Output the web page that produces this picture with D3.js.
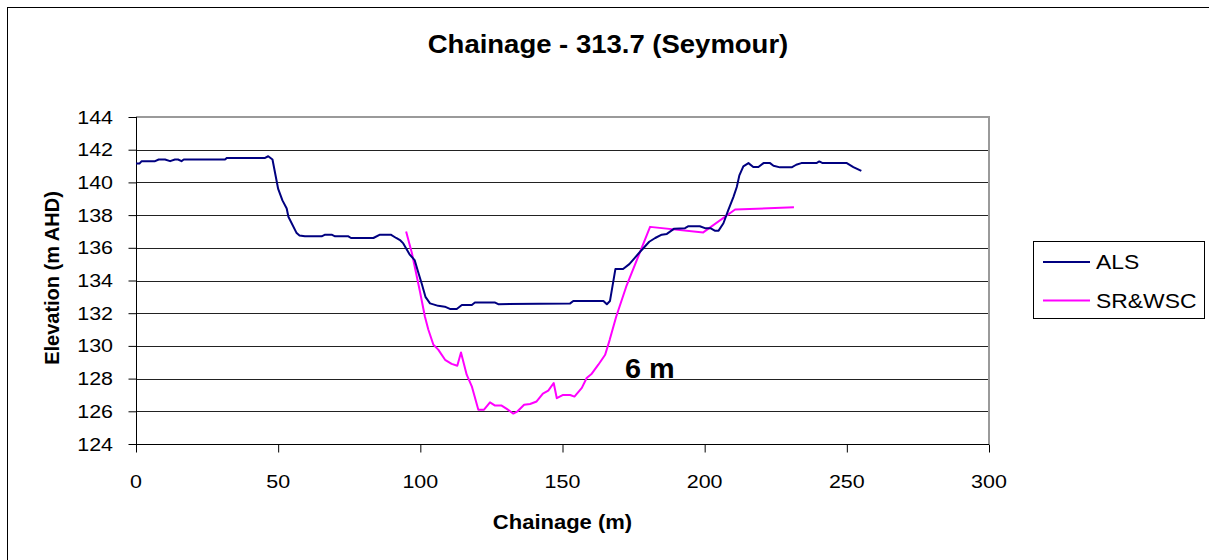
<!DOCTYPE html>
<html>
<head>
<meta charset="utf-8">
<script src="https://cdn.jsdelivr.net/npm/d3@7"></script>
<style>
  html, body { margin: 0; padding: 0; background: #fff; }
  svg { display: block; font-family: "Liberation Sans", Arial, sans-serif; }
</style>
</head>
<body>
<svg id="chart" width="1209" height="560"></svg>
<script>
// ---- data ----
const chartTitle = "Chainage - 313.7 (Seymour)";
const xAxisTitle = "Chainage (m)";
const yAxisTitle = "Elevation (m AHD)";
const annotationText = "6 m";
const seriesNames = ["ALS", "SR&WSC"];
const xTicks = [0, 50, 100, 150, 200, 250, 300];
const yTicks = [124, 126, 128, 130, 132, 134, 136, 138, 140, 142, 144];

const alsX = [0,1.2,2,6.7,8,10.2,12,13.7,14.8,16,16.8,31.3,32,45.4,46.5,48,50,51.5,53,53.6,56.5,57.5,59.4,65.3,66.5,68.8,70,74.7,75.6,83.5,85.8,89.6,91.5,93,94,96.2,98,99.1,100.5,101.8,103.4,106.3,108.6,110.4,112.8,114.6,118.1,119.2,126.3,127.4,152.7,153.8,164.4,165.6,166.7,168.6,171.3,173.5,175.5,177.3,180.5,182.6,184.9,186.7,189.3,193.1,194.3,198.3,200.1,202,203.7,204.9,206.6,208.3,210.1,211.3,212.2,213.6,215.4,217.1,218.9,220.7,223,224.2,226.5,230.6,232.2,234,239.3,240.3,241.5,250,252.3,255.1];
const alsY = [141.15,141.15,141.3,141.3,141.4,141.4,141.3,141.4,141.4,141.3,141.4,141.4,141.5,141.5,141.6,141.4,139.6,138.9,138.4,137.9,136.9,136.75,136.7,136.7,136.8,136.8,136.7,136.7,136.6,136.6,136.8,136.8,136.6,136.45,136.27,135.6,135.25,134.6,133.8,133.0,132.6,132.45,132.4,132.26,132.26,132.5,132.5,132.65,132.65,132.55,132.6,132.75,132.75,132.55,132.75,134.7,134.7,135.0,135.4,135.76,136.37,136.6,136.8,136.85,137.17,137.2,137.32,137.32,137.2,137.2,137.04,137.05,137.5,138.3,139.1,139.72,140.43,140.98,141.18,140.94,140.94,141.18,141.18,141.02,140.92,140.92,141.08,141.18,141.18,141.28,141.18,141.18,140.94,140.7];

const srX = [95,97,99.9,101.6,102.8,104.6,106.3,108.7,111,113,114.3,116.3,118.1,120.4,122.4,124.5,126.3,128.6,130.4,132.7,134.2,136.5,138.6,140.9,143.1,145,146.9,148,150.2,152.7,154.2,156.8,158.5,160.3,162.6,165,166.6,168.9,172.4,180.8,199.5,210.7,231.4];
const srY = [137.0,135.7,133.3,131.8,131.0,130.07,129.77,129.15,128.9,128.79,129.6,128.24,127.53,126.1,126.1,126.55,126.35,126.35,126.15,125.86,126.0,126.4,126.45,126.6,127.08,127.26,127.73,126.8,127.0,127.0,126.9,127.43,128.04,128.3,128.85,129.46,130.37,131.8,133.62,137.28,136.94,138.34,138.48];

const seriesColors = ["#000080", "#FF00FF"];

// ---- layout ----
const svg = d3.select("#chart");
const plot = { left: 136, right: 989, top: 117, bottom: 444 };
const x = d3.scaleLinear().domain([0, 300]).range([plot.left, plot.right]);
const y = d3.scaleLinear().domain([124, 144]).range([plot.bottom, plot.top]);

const SX = 1.16; // horizontal stretch of the original rendering's text

function stretchedText(g, tx, ty, txt, opts) {
  const t = g.append("text")
    .attr("transform", `translate(${tx},${ty}) scale(${opts.sx || SX},1)`)
    .attr("text-anchor", opts.anchor || "start")
    .attr("font-size", opts.size)
    .attr("font-weight", opts.weight || "normal")
    .attr("fill", "#000")
    .text(txt);
  return t;
}

// outer chart border
svg.append("rect").attr("x", 7.5).attr("y", 7.5).attr("width", 1240).attr("height", 600)
  .attr("fill", "#fff").attr("stroke", "#000").attr("stroke-width", 1);

// gridlines
svg.append("g").selectAll("line").data(yTicks.filter(v => v !== 124 && v !== 144)).join("line")
  .attr("x1", plot.left).attr("x2", plot.right)
  .attr("y1", d => Math.round(y(d)) + 0.5).attr("y2", d => Math.round(y(d)) + 0.5)
  .attr("stroke", "#222").attr("stroke-width", 1);

// plot border top/right (grey)
svg.append("line").attr("x1", plot.left).attr("x2", plot.right + 1)
  .attr("y1", plot.top).attr("y2", plot.top).attr("stroke", "#9a9a9a").attr("stroke-width", 2);
svg.append("line").attr("x1", plot.right).attr("x2", plot.right)
  .attr("y1", plot.top).attr("y2", plot.bottom).attr("stroke", "#9a9a9a").attr("stroke-width", 2);

// axes
const yAxis = d3.axisLeft(y).tickValues(yTicks).tickSize(8).tickFormat("");
const gy = svg.append("g").attr("transform", `translate(${plot.left + 0.5},0)`).call(yAxis);
gy.selectAll("path, line").attr("stroke", "#000");
gy.select(".domain").attr("d", `M0,${plot.top}V${plot.bottom}`);

const xAxis = d3.axisBottom(x).tickValues(xTicks).tickSize(8).tickFormat("");
const gx = svg.append("g").attr("transform", `translate(0,${plot.bottom + 0.5})`).call(xAxis);
gx.selectAll("path, line").attr("stroke", "#000");
gx.select(".domain").attr("d", `M${plot.left},0H${plot.right}`);

// tick labels
const labels = svg.append("g");
yTicks.forEach(v => stretchedText(labels, 113, y(v) + 6.5, String(v), { size: 18.5, anchor: "end" }));
xTicks.forEach(v => stretchedText(labels, x(v), 488, String(v), { size: 18.5, anchor: "middle" }));

// lines
const line = d3.line().x(d => x(d[0])).y(d => y(d[1]));
const alsData = alsX.map((v, i) => [v, alsY[i]]);
const srData = srX.map((v, i) => [v, srY[i]]);
svg.append("path").datum(srData).attr("d", line).attr("fill", "none")
  .attr("stroke", seriesColors[1]).attr("stroke-width", 2).attr("stroke-linejoin", "round");
svg.append("path").datum(alsData).attr("d", line).attr("fill", "none")
  .attr("stroke", seriesColors[0]).attr("stroke-width", 2).attr("stroke-linejoin", "round");

// titles
stretchedText(svg, 608, 53, chartTitle, { size: 25, weight: "bold", anchor: "middle", sx: 1.1 });
stretchedText(svg, (plot.left + plot.right) / 2, 529, xAxisTitle, { size: 20, weight: "bold", anchor: "middle", sx: 1.1 });
svg.append("text").attr("transform", `translate(59,278) rotate(-90)`)
  .attr("text-anchor", "middle").attr("font-size", 20).attr("font-weight", "bold").text(yAxisTitle);

// annotation
stretchedText(svg, 625, 378, annotationText, { size: 28, weight: "bold", anchor: "start", sx: 1.03 });

// legend
const lg = svg.append("g");
lg.append("rect").attr("x", 1033.5).attr("y", 241.5).attr("width", 171).attr("height", 77)
  .attr("fill", "#fff").attr("stroke", "#000").attr("stroke-width", 1);
const legendYs = [262, 300.5];
seriesNames.forEach((name, i) => {
  lg.append("line").attr("x1", 1043).attr("x2", 1090).attr("y1", legendYs[i]).attr("y2", legendYs[i])
    .attr("stroke", seriesColors[i]).attr("stroke-width", 2);
  stretchedText(lg, 1096, legendYs[i] + 7, name, { size: 21, anchor: "start", sx: 1.09 });
});
</script>
</body>
</html>
